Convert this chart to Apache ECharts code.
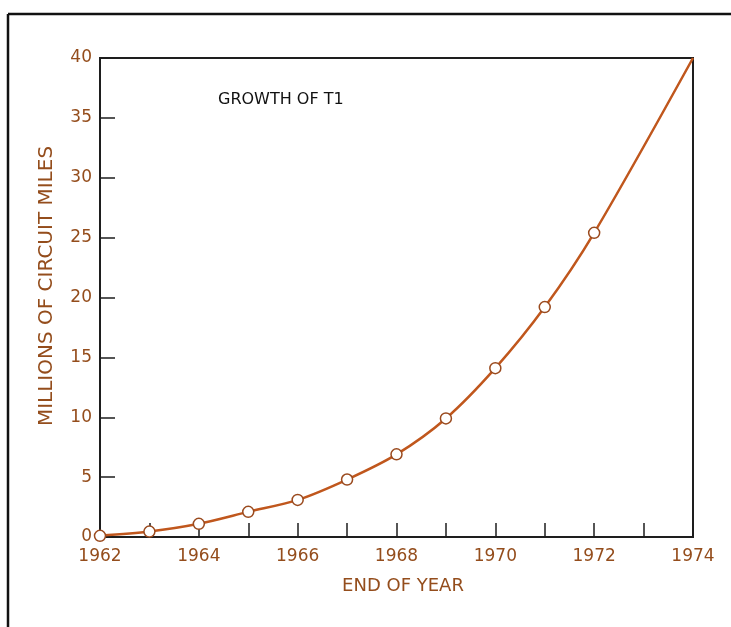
<!DOCTYPE html>
<html>
<head>
<meta charset="utf-8">
<script src="https://cdn.jsdelivr.net/npm/echarts@6/dist/echarts.min.js"></script>
<style>
  html, body { margin: 0; padding: 0; background: #fff; }
  #chart { width: 731px; height: 627px; }
</style>
</head>
<body>
<div id="chart"></div>
<script>
// Data
const years = [1962, 1963, 1964, 1965, 1966, 1967, 1968, 1969, 1970, 1971, 1972, 1974];
const circuitMiles = [0.1, 0.45, 1.1, 2.1, 3.1, 4.8, 6.9, 9.9, 14.1, 19.2, 25.4, 40];
const markedYears = [1962, 1963, 1964, 1965, 1966, 1967, 1968, 1969, 1970, 1971, 1972];
const yTicks = [0, 5, 10, 15, 20, 25, 30, 35, 40];
const xLabelYears = [1962, 1964, 1966, 1968, 1970, 1972, 1974];
const titleText = 'GROWTH OF T1';
const yName = 'MILLIONS OF CIRCUIT MILES';
const xName = 'END OF YEAR';

const brown = '#944d1c';
const lineColor = '#c0571d';
const axisColor = '#1e1e1e';
const font = 'DejaVu Sans';

const chart = echarts.init(document.getElementById('chart'), null, { renderer: 'canvas' });

const seriesData = years.map((y, i) => {
  const item = { value: [y, circuitMiles[i]] };
  if (markedYears.indexOf(y) < 0) item.symbol = 'none';
  return item;
});

chart.setOption({
  backgroundColor: '#ffffff',
  animation: false,
  grid: {
    left: 100, right: 38, top: 58, bottom: 90,
    show: true, borderColor: axisColor, borderWidth: 2, backgroundColor: 'transparent'
  },
  xAxis: {
    type: 'value',
    min: 1962, max: 1974, interval: 1,
    splitLine: { show: false },
    axisLine: { show: true, lineStyle: { color: axisColor, width: 2 } },
    axisTick: { show: true, inside: true, length: 14, lineStyle: { color: axisColor, width: 1.5 } },
    axisLabel: {
      margin: 11, color: brown, fontSize: 17, fontFamily: font,
      formatter: v => (xLabelYears.indexOf(v) >= 0 ? String(v) : '')
    }
  },
  yAxis: {
    type: 'value',
    min: 0, max: 40, interval: 5,
    splitLine: { show: false },
    axisLine: { show: true, lineStyle: { color: axisColor, width: 2 } },
    axisTick: { show: true, inside: true, length: 15, lineStyle: { color: axisColor, width: 1.5 } },
    axisLabel: {
      margin: 8, color: brown, fontSize: 17, fontFamily: font,
      formatter: v => (yTicks.indexOf(v) >= 0 ? String(v) : '')
    }
  },
  graphic: [
    { type: 'line', shape: { x1: 8, y1: 14, x2: 731, y2: 14 }, style: { stroke: '#111', lineWidth: 2.5 } },
    { type: 'line', shape: { x1: 8, y1: 14, x2: 8, y2: 627 }, style: { stroke: '#111', lineWidth: 2.5 } },
    { type: 'text', left: 218, top: 92, style: { text: titleText, fill: '#111', font: '16px "DejaVu Sans"' } },
    { type: 'text', x: 47, y: 286, rotation: Math.PI / 2,
      style: { text: yName, fill: brown, font: '20px "DejaVu Sans"', textAlign: 'center', textVerticalAlign: 'middle' } },
    { type: 'text', x: 403, y: 586,
      style: { text: xName, fill: brown, font: '18px "DejaVu Sans"', textAlign: 'center', textVerticalAlign: 'middle' } }
  ],
  series: [{
    type: 'line',
    data: seriesData,
    smooth: 0.3,
    symbol: 'circle',
    symbolSize: 11,
    lineStyle: { color: lineColor, width: 2.5 },
    itemStyle: { color: '#ffffff', borderColor: '#9a4a1e', borderWidth: 1.5 },
    z: 3
  }]
});
</script>
</body>
</html>
